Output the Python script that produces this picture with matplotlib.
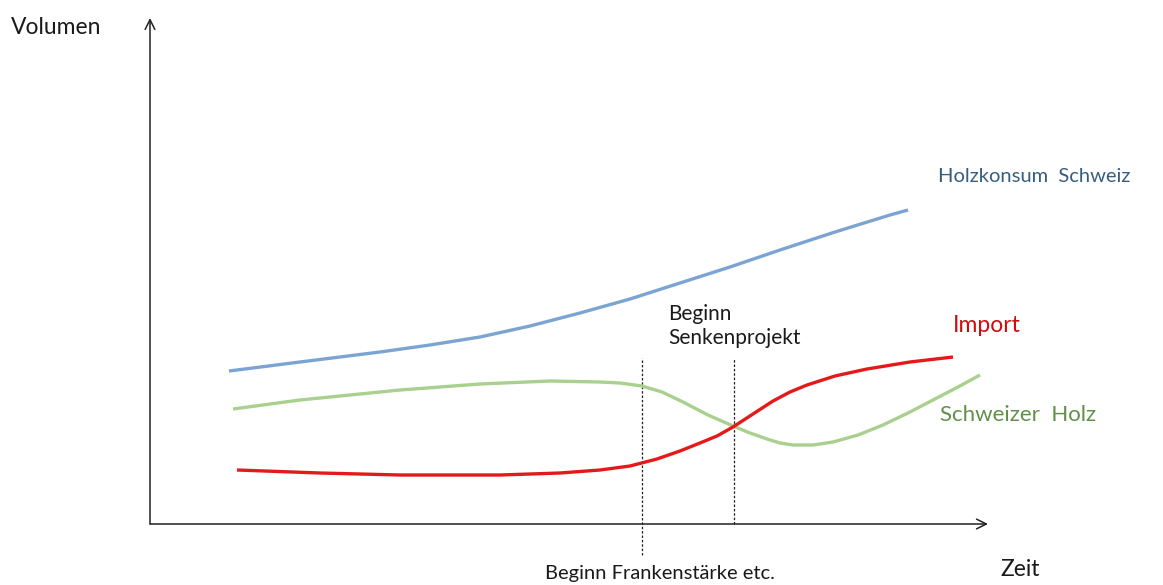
import matplotlib
matplotlib.use("Agg")
import matplotlib.pyplot as plt

plt.rcParams['font.family'] = ['Lato', 'DejaVu Sans']

# Schematic curves, time vs. volume (arbitrary units, origin at the axis corner)
konsum_t = [79, 150, 230, 280, 330, 380, 430, 480, 530, 580, 630, 685, 740, 758]
konsum_v = [153, 162, 172, 179, 187, 198, 211, 225, 241, 257, 274, 292, 309, 314]

holz_t = [83, 150, 250, 330, 400, 450, 470, 492, 512, 533, 558, 583, 600, 617, 630,
          643, 663, 683, 708, 733, 758, 783, 808, 830]
holz_v = [115, 124, 134, 140, 143, 142, 141, 138, 132, 122, 109, 98, 91, 85, 81,
          79, 79, 82, 89, 99, 111, 124, 137, 149]

import_t = [87, 170, 250, 350, 410, 450, 480, 507, 530, 550, 567, 583, 603, 623, 640,
            657, 685, 717, 760, 803]
import_v = [54, 51, 49, 49, 51, 54, 58, 65, 73, 81, 88, 97, 110, 123, 132,
            139, 148, 155, 162, 167]

# events marked with dotted verticals
event_t = [492, 584]
event_top = [166, 166]
event_bottom = [-31, 0]

fig = plt.figure(figsize=(11.63, 5.85), dpi=100)
ax = fig.add_axes([0, 0, 1, 1])
ax.set_xlim(-150, 1013)
ax.set_ylim(-61, 524)
ax.axis('off')

# axes with open arrow heads
arrow = dict(arrowstyle='->,head_length=0.7,head_width=0.35', color='#222222', lw=1.1,
             shrinkA=0, shrinkB=0)
ax.annotate('', xy=(838, 0), xytext=(0, 0), arrowprops=arrow)
ax.annotate('', xy=(0, 506), xytext=(0, 0), arrowprops=arrow)

for t, top, bot in zip(event_t, event_top, event_bottom):
    ax.plot([t, t], [bot, top], color='#222222', lw=0.9, ls=(0, (2, 1.5)))

ax.plot(konsum_t, konsum_v, color='#7ba4d2', lw=2.4, solid_capstyle='butt')
ax.plot(holz_t, holz_v, color='#a9d08e', lw=2.4, solid_capstyle='butt')
ax.plot(import_t, import_v, color='#e41a1a', lw=2.4, solid_capstyle='butt')

ax.text(-139, 496, 'Volumen', fontsize=16.5, color='#1a1a1a', va='center', ha='left')
ax.text(850, -46, 'Zeit', fontsize=16.5, color='#1a1a1a', va='center', ha='left')
ax.text(395, -50, 'Beginn Frankenstärke etc.', fontsize=14.5, color='#1a1a1a',
        va='center', ha='left')
ax.text(518, 198, 'Beginn\nSenkenprojekt', fontsize=15, color='#1a1a1a',
        va='center', ha='left', linespacing=1.2)

ax.text(788, 348, 'Holzkonsum  Schweiz', fontsize=14.5, color='#385d7e', va='center', ha='left')
ax.text(803, 199, 'Import', fontsize=16.5, color='#d00c0c', va='center', ha='left')
ax.text(790, 109, 'Schweizer  Holz', fontsize=16, color='#62904a', va='center', ha='left')

fig.savefig('out.png', dpi=100)
